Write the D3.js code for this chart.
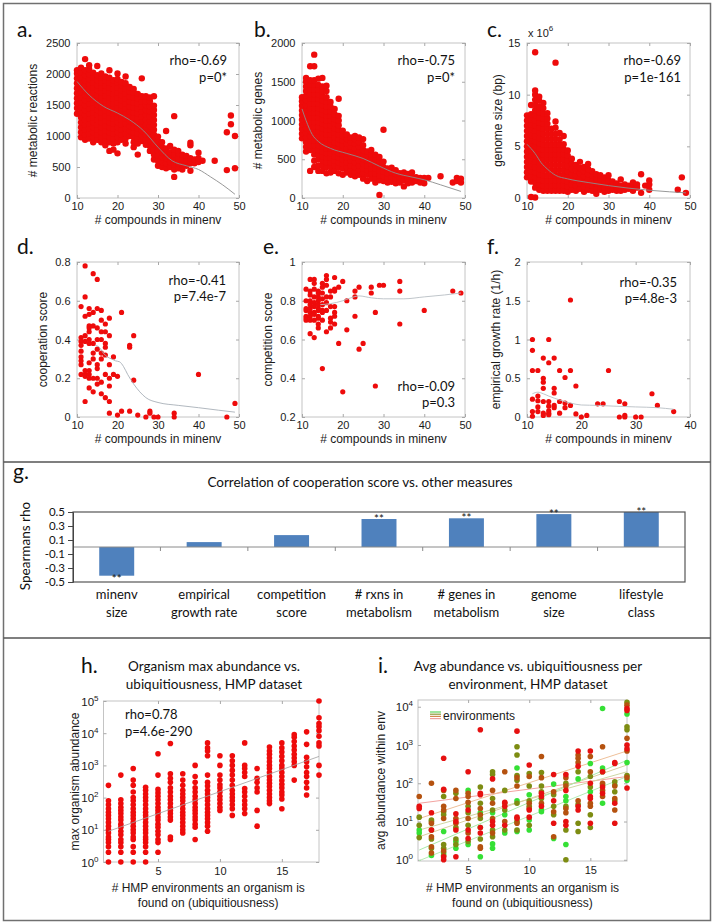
<!DOCTYPE html>
<html><head><meta charset="utf-8">
<script src="https://cdn.jsdelivr.net/npm/d3@7"></script>
<style>body{margin:0;background:#fff}svg{display:block}</style>
</head><body><script>
// ---------------- DATA ----------------
const compoundTicks = [10, 20, 30, 40, 50];
const fXTicks = [10, 20, 30, 40];
const aYTicks = [0, 500, 1000, 1500, 2000, 2500];
const bYTicks = [0, 500, 1000, 1500, 2000];
const cYTicks = [0, 5, 10, 15];
const dYTicks = [0, 0.2, 0.4, 0.6, 0.8];
const eYTicks = [0.2, 0.4, 0.6, 0.8, 1];
const fYTicks = [0, 0.5, 1, 1.5, 2];

// panel a: # compounds vs # metabolic reactions (columns: x, list of y)
const aColumns = [
 [10,[1360,1450,1530,1610,1690,1770,1850,1930,2010,2060]],
 [11,[980,1060,1140,1220,1300,1380,1460,1540,1620,1700,1780,1860,1940,2020,2100]],
 [12,[940,1020,1100,1180,1260,1340,1420,1500,1580,1660,1740,1820,1900,1980,2060,2240]],
 [13,[960,1040,1120,1200,1280,1360,1440,1520,1600,1680,1760,1840,1920,2000,2080,2140]],
 [14,[900,980,1060,1140,1220,1300,1380,1460,1540,1620,1700,1780,1860,1940,2020]],
 [15,[940,1020,1100,1180,1260,1340,1420,1500,1580,1660,1740,1820,1900,1980,2130]],
 [16,[900,980,1060,1140,1220,1300,1380,1460,1540,1620,1700,1780,1860,1940,2010]],
 [17,[850,930,1010,1090,1170,1250,1330,1410,1490,1570,1650,1730,1810,1890,1960]],
 [18,[760,900,980,1060,1140,1220,1300,1380,1460,1540,1620,1700,1780,1860,1940,2060]],
 [19,[780,880,960,1040,1120,1200,1280,1360,1440,1520,1600,1680,1760,1840,1900]],
 [20,[720,900,980,1060,1140,1220,1300,1380,1460,1540,1620,1700,1780,1860,1920,2010]],
 [21,[940,1020,1100,1180,1260,1340,1420,1500,1580,1660,1740,1820,1870]],
 [22,[880,960,1040,1120,1200,1280,1360,1440,1520,1600,1680,1760,1850,1960]],
 [23,[1000,1080,1160,1240,1320,1400,1480,1560,1640,1720,1790]],
 [24,[820,900,980,1060,1140,1220,1300,1380,1460,1540,1620,1700,1760]],
 [25,[700,880,960,1040,1120,1200,1280,1360,1440,1520,1600,1680]],
 [26,[920,1000,1080,1160,1240,1320,1400,1480,1560,1640,1930]],
 [27,[860,940,1020,1100,1180,1260,1340,1420,1500,1560,1640]],
 [28,[760,840,920,1000,1080,1160,1240,1320,1400,1480,1560,1620]],
 [29,[620,700,780,860,940,1020,1100,1180,1260,1340,1420,1490,1640]],
 [30,[520,600,680,760,840,920,990]],
 [31,[500,580,660,740,820,900]],
 [32,[480,560,640,720,800,1080]],
 [33,[500,580,660,740,840]],
 [34,[340,460,540,620,700,780,1320]],
 [35,[480,560,640,720,760]],
 [36,[460,540,620,700]],
 [37,[520,600,680]],
 [38,[440,560,640,850,890]],
 [39,[560,620]],
 [40,[580,640,730]],
 [41,[600]],
 [44,[600]],
 [47,[450,1060]],
 [48,[1190,1330]],
 [49,[480,1000]]
];
const aSmooth = [[10,1880],[13,1660],[16.5,1480],[20,1370],[23,1260],[26.5,1080],[30,820],[33.5,600],[37,520],[40,460],[43,340],[46,210],[49,60]];

// panel b: # compounds vs # metabolic genes
const bColumns = [
 [10,[770,830,890,950,1010,1070,1130,1190,1250,1300]],
 [11,[600,660,720,780,840,900,960,1020,1080,1140,1200,1260,1320,1380,1440,1500,1550]],
 [12,[350,620,680,740,800,860,920,980,1040,1100,1160,1220,1280,1340,1400,1460,1520,1700]],
 [13,[400,480,560,620,680,740,800,860,920,980,1040,1100,1160,1220,1280,1340,1400,1460,1520,1700,1850]],
 [14,[350,420,500,560,620,680,740,800,860,920,980,1040,1100,1160,1220,1280,1340,1400,1460,1540]],
 [15,[350,420,480,540,600,660,720,780,840,900,960,1020,1080,1140,1200,1260,1320,1380,1440,1550]],
 [16,[320,400,460,520,580,640,700,760,820,880,940,1000,1060,1120,1180,1240,1300,1380,1450]],
 [17,[330,400,460,520,580,640,700,760,820,880,940,1000,1060,1120,1180,1240]],
 [18,[350,420,480,540,600,660,720,780,840,900,960,1020,1080,1150]],
 [19,[320,400,460,520,580,640,700,760,820,880,940,1000,1060,1280]],
 [20,[300,380,440,500,560,620,680,740,800,870]],
 [21,[330,400,460,520,580,640,700,760,820]],
 [22,[300,360,420,480,540,600,660,720,780]],
 [23,[280,340,400,460,520,580,640,700,760,800]],
 [24,[300,360,420,480,540,600,660,720,780]],
 [25,[250,320,380,440,500,560,620,680,760]],
 [26,[220,300,360,420,480,540,600]],
 [27,[250,320,380,440,500,560,620]],
 [28,[200,260,320,380,440,500,560]],
 [29,[40,230,290,350,410,470,530]],
 [30,[220,280,340,400,470,880]],
 [31,[200,260,320,380]],
 [32,[210,270,330,390]],
 [33,[190,250,310,360]],
 [34,[200,260,320]],
 [35,[150,230,290,330]],
 [36,[190,250,310]],
 [37,[200,260,330]],
 [38,[220,270]],
 [39,[200,260]],
 [40,[190,260]],
 [41,[260]],
 [44,[280]],
 [47,[200]],
 [48,[220,260]],
 [49,[200,250]]
];
const bSmooth = [[10,1150],[11,1000],[12.5,820],[14,730],[17,640],[21,575],[25,510],[29,410],[33,320],[37,270],[40,235],[44,170],[49,85]];

// panel c: # compounds vs genome size (x 10^6 bp)
const cColumns = [
 [10,[2.0,2.5,3.0,3.5,4.0,4.5,5.0,5.5,6.0,6.5,7.0,7.5,8.0]],
 [11,[0.1,1.6,2.1,2.6,3.1,3.6,4.1,4.6,5.1,5.6,6.1,6.6,7.1,7.6,8.1,9.0]],
 [12,[0.05,1.0,1.5,2.0,2.5,3.0,3.5,4.0,4.5,5.0,5.5,6.0,6.5,7.0,7.5,8.0,8.5,9.0,9.5,10.0,10.4,14.1]],
 [13,[0.8,1.3,1.8,2.3,2.8,3.3,3.8,4.3,4.8,5.3,5.8,6.3,6.8,7.3,7.8,8.3,8.8,9.4,9.8]],
 [14,[0.7,1.2,1.7,2.2,2.7,3.2,3.7,4.2,4.7,5.2,5.7,6.2,6.7,7.2,7.7,8.2,8.7,9.2]],
 [15,[0.7,1.2,1.7,2.2,2.7,3.2,3.7,4.2,4.7,5.2,5.7,6.2,6.7,7.2,7.7,8.2]],
 [16,[0.7,1.2,1.7,2.2,2.7,3.2,3.7,4.2,4.7,5.2,5.7,6.2,6.7]],
 [17,[0.7,1.2,1.7,2.2,2.7,3.2,3.7,4.2,4.7,5.2,5.7,6.2,6.8,7.4,13.1]],
 [18,[0.7,1.2,1.7,2.2,2.7,3.2,3.7,4.2,4.7,5.2,5.7,6.3]],
 [19,[0.7,1.2,1.7,2.2,2.7,3.2,3.7,4.2,4.7,5.2,6.0]],
 [20,[0.6,1.1,1.6,2.1,2.6,3.1,3.6,4.1,4.6]],
 [21,[0.8,1.3,1.8,2.3,2.8,3.3,3.8]],
 [22,[0.7,1.2,1.7,2.2,2.7,3.2]],
 [23,[0.9,1.4,1.9,2.4,2.9,3.5]],
 [24,[0.6,1.1,1.6,2.1,2.6,3.0]],
 [25,[0.8,1.3,1.8,2.3,2.8,3.3]],
 [26,[0.7,1.2,1.7,2.2,2.6]],
 [27,[0.4,0.9,1.4,1.9,2.3]],
 [28,[0.8,1.3,1.8,2.2]],
 [29,[0.6,1.0,1.5,2.0]],
 [30,[0.7,1.2,1.7,2.2]],
 [31,[0.8,1.3,1.6]],
 [32,[0.7,1.1,1.4]],
 [33,[0.7,1.2,1.8]],
 [34,[0.8,1.3]],
 [35,[0.9,1.2]],
 [36,[0.7,1.1,1.5]],
 [37,[1.0,1.3]],
 [38,[0.5,2.3]],
 [39,[1.2]],
 [40,[0.8,1.3,1.7]],
 [47,[0.8]],
 [48,[2.0]],
 [49,[0.5]]
];
const cSmooth = [[10,5.2],[12,4.3],[13.5,3.4],[15,2.8],[17,2.2],[20,1.85],[25,1.5],[30,1.2],[35,0.95],[40,0.75],[45,0.6],[49,0.5]];

// panel d: cooperation score
const dColumns = [
 [11,[0.57,0.41,0.39,0.37,0.34,0.31,0.29,0.27,0.22]],
 [12,[0.78,0.62,0.52,0.42,0.39,0.24,0.22,0.21,0.08]],
 [13,[0.56,0.53,0.47,0.46,0.44,0.40,0.38,0.28,0.24,0.22,0.20,0.15]],
 [14,[0.74,0.54,0.47,0.38,0.33,0.30,0.20,0.13]],
 [15,[0.71,0.56,0.46,0.40,0.35,0.27,0.25,0.20,0.17]],
 [16,[0.55,0.50,0.44,0.40,0.33,0.30,0.18,0.12]],
 [17,[0.48,0.44,0.38,0.36,0.32,0.22,0.10]],
 [18,[0.51,0.42,0.27,0.20,0.16,0.08,0.02]],
 [19,[0.31,0.22]],
 [20,[0.21,0.01]],
 [21,[0.54,0.03]],
 [23,[0.37,0.36,0.03]],
 [24,[0.42,0.19]],
 [25,[0.01]],
 [27,[0.0]],
 [28,[0.03,0.02]],
 [29,[0.0]],
 [30,[0.0]],
 [34,[0.02,0.0]],
 [40,[0.22]],
 [47,[0.0]],
 [49,[0.07]]
];
const dSmooth = [[14.5,0.37],[15.5,0.36],[16.5,0.33],[17.5,0.31],[18.5,0.30],[19.5,0.29],[20.5,0.285],[21.5,0.26],[22.5,0.22],[24,0.17],[25.5,0.13],[27,0.10],[30,0.075],[35,0.06],[40,0.048],[45,0.035],[49,0.025]];

// panel e: competition score
const eColumns = [
 [11,[0.86,0.80,0.76,0.75,0.72,0.71,0.70]],
 [12,[0.91,0.85,0.83,0.80,0.78,0.76,0.74,0.72,0.70,0.63]],
 [13,[0.91,0.89,0.86,0.82,0.79,0.77,0.74,0.73,0.70,0.61]],
 [14,[0.85,0.84,0.82,0.80,0.78,0.76,0.75,0.72,0.71,0.68,0.66]],
 [15,[0.89,0.87,0.84,0.81,0.78,0.75,0.74,0.70,0.45]],
 [16,[0.93,0.91,0.88,0.82,0.79,0.75,0.64]],
 [17,[0.85,0.82,0.77,0.71,0.69,0.66]],
 [18,[0.92,0.86,0.85,0.77,0.74,0.72,0.68]],
 [19,[0.87,0.58]],
 [20,[0.90,0.33]],
 [21,[0.80,0.65]],
 [23,[0.85,0.82,0.72]],
 [24,[0.87,0.55]],
 [25,[0.58]],
 [27,[0.87,0.84]],
 [28,[0.74,0.36]],
 [29,[0.88]],
 [30,[0.88]],
 [34,[0.90,0.85,0.68]],
 [40,[0.75]],
 [47,[0.85]],
 [49,[0.84]]
];
const eSmooth = [[14.5,0.78],[17,0.785],[20,0.80],[22,0.815],[24,0.825],[27,0.815],[30,0.81],[35,0.81],[40,0.82],[45,0.83],[49,0.84]];

// panel f: empirical growth rate
const fColumns = [
 [11,[1.0,0.86,0.6,0.23,0.07,0.01]],
 [12,[0.6,0.27,0.21,0.13,0.07]],
 [13,[0.76,0.50,0.45,0.37,0.20,0.05,0.02]],
 [14,[1.0,0.70,0.20,0.14,0.08,0.05,0.03]],
 [15,[0.76,0.37,0.31,0.15,0.12]],
 [16,[0.6,0.20,0.05]],
 [17,[0.51,0.18,0.12]],
 [18,[1.51,0.6,0.15]],
 [19,[0.40,0.04]],
 [20,[0.0]],
 [21,[0.02]],
 [23,[0.17]],
 [24,[0.17]],
 [25,[0.6]],
 [27,[0.20,0.0]],
 [28,[0.17,0.02,0.0]],
 [30,[0.0]],
 [31,[0.0]],
 [33,[0.30]],
 [34,[0.15]],
 [37,[0.07]]
];
const fSmooth = [[11,0.30],[12,0.32],[13,0.30],[14,0.27],[16,0.22],[18,0.18],[20,0.155],[23,0.15],[26,0.14],[30,0.13],[34,0.12],[37,0.10]];

// panel g: correlation of cooperation score vs other measures
const gCategories = [["minenv","size"],["empirical","growth rate"],["competition","score"],["# rxns in","metabolism"],["# genes in","metabolism"],["genome","size"],["lifestyle","class"]];
const gRho = [-0.41, 0.07, 0.17, 0.40, 0.41, 0.47, 0.50];
const gSignif = ["**", "", "", "**", "**", "**", "**"];
const gTicks = [0.5, 0.3, 0.1, -0.1, -0.3, -0.5];

// panel h: max abundance vs ubiquitiousness
const hXTicks = [5, 10, 15];
const hYTicks = [1, 10, 100, 1000, 10000, 100000];
const hColumns = [
 [1,[1,2,3,4,5,6,8,10,13,17,22,28,35,45,60,80,240]],
 [2,[1,2,3,4,5,7,9,12,15,20,25,32,40,50,65,85,500]],
 [3,[1,2,3,5,6,8,10,13,17,22,28,35,45,60,80,100,150,240,350,800]],
 [4,[1,2,3,4,5,6,8,10,13,17,22,28,35,45,60,80,100,130,170,210]],
 [5,[2,4,5,7,9,12,15,20,25,32,40,50,65,85,110,140,180,500,2300]],
 [6,[5,6,20,25,32,40,50,65,85,110,150,200,300,400,550,4800]],
 [7,[8,10,13,17,22,28,35,45,60,80,100,130,170,240,350,550]],
 [8,[5,12,15,20,25,32,40,50,65,85,110,150,200,300,450,1000]],
 [9,[9,13,17,22,28,35,45,60,80,100,130,170,230,300,500,2000,2800,3500,5000]],
 [10,[40,50,65,85,110,150,200,250,350,500,1000,2000]],
 [11,[28,45,60,80,100,130,170,240,350,500,700,1000,1400,2000]],
 [12,[32,45,60,80,110,150,190,450,600,800,1000,5000]],
 [13,[13,40,150,200,300,400,800]],
 [14,[65,80,100,130,170,220,280,350,450,600,800,1000,1300,1700,2200,2800,3700]],
 [15,[45,90,120,150,200,260,340,450,600,800,1000,1400,1900,2600,3500,5000]],
 [16,[350,1000,1300,1700,2200,3000,4000,5500,7500,9000]],
 [17,[120,200,300,450,600,900,1300,1800,4500,11000]],
 [18,[500,1000,4000,5000,8000,12000,16000,20000,30000,100000]]
];
const hFit = [[1,9],[18,1900]];

// panel i: avg abundance per environment
const iYTicks = [1, 10, 100, 1000, 10000];
const iRed = [[1,25],[1,22],[2,17],[2,6],[3,450],[3,70],[3,1.2],[3,1.0],[4,16],[4,10],[4,6],[4,1.2],[5,200],[5,20],[5,6],[5,3.6],[6,2500],[6,55],[6,50],[6,7],[6,5],[7,130],[7,10],[7,8],[8,32],[8,25],[8,8],[9,2300],[9,13],[9,12],[10,300],[10,20],[10,13],[11,55],[11,45],[11,25],[12,170],[12,35],[12,9],[13,170],[13,65],[13,10],[13,8],[14,700],[14,280],[14,25],[14,20],[15,700],[15,100],[15,45],[15,40],[15,9],[16,200],[16,80],[16,55],[17,350],[17,330],[17,30],[17,9],[18,9000],[18,8000],[18,1000],[18,800],[18,75]];
const iBrown = [[1,45],[2,100],[2,9],[2,4],[2,2.2],[2,1.5],[3,65],[3,25],[3,20],[3,12],[3,1.7],[4,65],[4,40],[4,12],[4,9],[5,55],[5,45],[5,32],[5,12],[5,5],[6,22],[6,15],[6,2.2],[6,2],[7,65],[7,30],[7,12],[7,5],[8,200],[8,30],[8,10],[9,140],[9,85],[9,9],[10,150],[10,30],[10,22],[11,500],[11,140],[11,30],[12,60],[12,18],[12,4],[13,140],[13,85],[13,22],[13,17],[14,550],[14,450],[14,350],[14,35],[15,500],[15,200],[15,30],[15,25],[16,900],[16,100],[16,65],[16,45],[17,85],[17,40],[17,20],[18,11000],[18,1500],[18,700],[18,140]];
const iOlive = [[1,13],[1,8],[1,3.8],[2,11],[2,10],[2,6],[2,3.5],[2,2],[3,45],[3,18],[3,15],[3,2.5],[3,2],[3,1.3],[4,55],[4,7],[4,3.5],[4,2.5],[5,25],[5,17],[5,8],[5,3],[6,80],[6,30],[6,12],[6,3.5],[7,200],[7,170],[7,40],[7,20],[7,6],[7,4],[8,65],[8,20],[8,6],[9,900],[9,550],[9,160],[9,120],[9,30],[9,10],[9,6],[10,180],[10,85],[10,35],[10,25],[10,8],[11,190],[11,85],[11,60],[11,40],[12,50],[12,25],[12,15],[13,100],[13,25],[13,6],[13,1.0],[14,200],[14,28],[14,9],[14,5.5],[15,150],[15,80],[15,15],[15,7],[16,200],[16,90],[17,110],[17,60],[17,35],[18,13000],[18,3000],[18,2500],[18,160]];
const iGreen = [[1,6],[1,5],[2,1.3],[3,5.5],[3,1.5],[4,3],[4,2],[5,65],[5,2.5],[6,17],[6,7],[6,1.2],[7,17],[7,2.6],[7,2],[8,15],[8,5],[9,250],[9,35],[9,5.5],[10,50],[10,11],[10,6],[11,20],[11,18],[12,95],[12,3.6],[13,45],[13,35],[13,2.5],[14,130],[15,330],[15,60],[16,9000],[16,250],[16,30],[17,90],[18,6500],[18,350],[18,120]];
const iFitRed = [[1,30],[18,150]];
const iFitBrown = [[1,12],[18,700]];
const iFitOlive = [[1,6],[18,200]];
const iFitOlive2 = [[1,4],[18,300]];
const iFitGreen = [[1,1.8],[18,400]];
const iFitGreen2 = [[1,0.95],[18,150]];

// ---------------- DRAWING ----------------
const W = 717, H = 924;
const RED = "#ee0b0b";
const CAL = "Lato, 'Open Sans', sans-serif";
const ARI = "'Liberation Sans', Arial, sans-serif";
const svg = d3.select("body").append("svg").attr("width", W).attr("height", H)
  .style("font-family", ARI);

svg.append("rect").attr("width", W).attr("height", H).attr("fill", "#fff");
// section frames
svg.append("rect").attr("x", 3.5).attr("y", 3.5).attr("width", 707).attr("height", 917)
  .attr("fill", "none").attr("stroke", "#707070").attr("stroke-width", 1.5);
[462, 638].forEach(yy => svg.append("line").attr("x1", 3.5).attr("x2", 710.5)
  .attr("y1", yy).attr("y2", yy).attr("stroke", "#555").attr("stroke-width", 1.5));

const flat = cols => cols.flatMap(([x, ys]) => ys.map(v => [x, v]));

function styleAxis(g) {
  g.select(".domain").remove();
  g.selectAll(".tick line").attr("stroke", "#a8a8a8");
  g.selectAll(".tick text").attr("fill", "#1a1a1a").style("font-family", ARI).style("font-size", "11px");
}

function frameAxes(o, x, y, logY) {
  const g = svg.append("g");
  g.append("rect").attr("x", o.l).attr("y", o.t).attr("width", o.r - o.l).attr("height", o.b - o.t)
    .attr("fill", "#fff").attr("stroke", "#c4c4c4").attr("stroke-width", 1);
  const bx = g.append("g").attr("transform", `translate(0,${o.b})`)
    .call(d3.axisBottom(x).tickValues(o.xt).tickSize(-3).tickPadding(o.xpad || 4).tickFormat(d3.format("d")));
  styleAxis(bx);
  g.append("g").attr("transform", `translate(0,${o.t})`)
    .call(d3.axisTop(x).tickValues(o.xt).tickSize(-3).tickFormat("")).call(styleAxis);
  g.append("g").attr("transform", `translate(${o.r},0)`)
    .call(d3.axisRight(y).tickValues(o.yt).tickSize(-3).tickFormat("")).call(styleAxis);
  const ly = g.append("g").attr("transform", `translate(${o.l},0)`)
    .call(d3.axisLeft(y).tickValues(o.yt).tickSize(-3).tickPadding(6.5)
      .tickFormat(logY ? "" : (d => String(d))));
  styleAxis(ly);
  if (logY) {
    o.yt.forEach(v => {
      const t = g.append("text").attr("x", o.l - 5).attr("y", y(v) + 4.5)
        .attr("text-anchor", "end").attr("fill", "#1a1a1a").style("font-size", "11.5px");
      t.append("tspan").text("10");
      t.append("tspan").attr("dy", -5).style("font-size", "8px").text(Math.round(Math.log10(v)));
    });
  }
  return g;
}

function scatterPanel(o) {
  const x = d3.scaleLinear().domain(o.xd).range([o.l, o.r]);
  const y = (o.log ? d3.scaleLog() : d3.scaleLinear()).domain(o.yd).range([o.b, o.t]);
  frameAxes(o, x, y, o.log);
  const g = svg.append("g");
  g.selectAll("circle").data(o.pts).join("circle")
    .attr("cx", d => x(d[0])).attr("cy", d => y(d[1])).attr("r", o.rad).attr("fill", RED);
  if (o.smooth) {
    g.append("path").datum(o.smooth)
      .attr("d", d3.line().x(d => x(d[0])).y(d => y(d[1])).curve(d3.curveMonotoneX))
      .attr("fill", "none").attr("stroke", o.smoothColor || "#8c8c8c").attr("stroke-width", 0.9);
  }
  // axis titles
  svg.append("text").attr("transform", `translate(${o.ylx},${(o.t + o.b) / 2}) rotate(-90)`)
    .attr("text-anchor", "middle").attr("dy", "0.35em").style("font-size", "12px")
    .attr("fill", "#1a1a1a").text(o.ylabel);
  (Array.isArray(o.xlabel) ? o.xlabel : [o.xlabel]).forEach((s, i) =>
    svg.append("text").attr("x", (o.l + o.r) / 2 + (o.xlo || 0)).attr("y", o.xly + i * 14.5)
      .attr("text-anchor", "middle").style("font-size", "12px").attr("fill", "#1a1a1a").text(s));
  if (o.letter) svg.append("text").attr("x", o.lx).attr("y", o.ly).style("font-family", CAL)
    .style("font-size", "21px").attr("fill", "#111").text(o.letter);
  if (o.stats) o.stats.forEach((s, i) => svg.append("text").attr("x", o.sx).attr("y", o.sy[i])
    .attr("text-anchor", o.sanchor || "end").style("font-family", CAL).style("font-size", "13px")
    .attr("fill", "#111").text(s));
  return {x, y};
}

const C1 = [77, 239], C2 = [302, 465], C3 = [527, 690];
const R1 = [43, 198], R2 = [262, 417];

scatterPanel({l:C1[0], r:C1[1], t:R1[0], b:R1[1], xd:[10,50], yd:[0,2500], xt:compoundTicks, yt:aYTicks,
  pts:flat(aColumns), smooth:aSmooth, rad:3.2, ylabel:"# metabolic reactions", ylx:33,
  xlabel:"# compounds in minenv", xly:224, letter:"a.", lx:17, ly:37,
  stats:["rho=-0.69","p=0*"], sx:227, sy:[65,82]});
scatterPanel({l:C2[0], r:C2[1], t:R1[0], b:R1[1], xd:[10,50], yd:[0,2000], xt:compoundTicks, yt:bYTicks,
  pts:flat(bColumns), smooth:bSmooth, rad:3.2, ylabel:"# metabolic genes", ylx:258,
  xlabel:"# compounds in minenv", xly:224, letter:"b.", lx:254, ly:37,
  stats:["rho=-0.75","p=0*"], sx:455, sy:[65,82]});
scatterPanel({l:C3[0], r:C3[1], t:R1[0], b:R1[1], xd:[10,50], yd:[0,15], xt:compoundTicks, yt:cYTicks,
  pts:flat(cColumns), smooth:cSmooth, rad:3.2, ylabel:"genome size (bp)", ylx:498,
  xlabel:"# compounds in minenv", xly:224, letter:"c.", lx:487, ly:37,
  stats:["rho=-0.69","p=1e-161"], sx:681, sy:[65,82]});
{
  const t = svg.append("text").attr("x", 528).attr("y", 37).style("font-size", "11px").attr("fill", "#1a1a1a");
  t.append("tspan").text("x 10");
  t.append("tspan").attr("dy", -6).style("font-size", "8px").text("6");
}
scatterPanel({l:C1[0], r:C1[1], t:R2[0], b:R2[1], xd:[10,50], yd:[0,0.8], xt:compoundTicks, yt:dYTicks,
  pts:flat(dColumns), smooth:dSmooth, smoothColor:"#a8b0b8", rad:2.6, ylabel:"cooperation score", ylx:43,
  xlabel:"# compounds in minenv", xly:443, letter:"d.", lx:17, ly:254,
  stats:["rho=-0.41","p=7.4e-7"], sx:226, sy:[285,301]});
scatterPanel({l:C2[0], r:C2[1], t:R2[0], b:R2[1], xd:[10,50], yd:[0.2,1], xt:compoundTicks, yt:eYTicks,
  pts:flat(eColumns), smooth:eSmooth, smoothColor:"#b8bec4", rad:2.6, ylabel:"competition score", ylx:268,
  xlabel:"# compounds in minenv", xly:443, letter:"e.", lx:263, ly:254,
  stats:["rho=-0.09","p=0.3"], sx:455, sy:[391,407]});
scatterPanel({l:C3[0], r:C3[1], t:R2[0], b:R2[1], xd:[10,40], yd:[0,2], xt:fXTicks, yt:fYTicks,
  pts:flat(fColumns), smooth:fSmooth, smoothColor:"#b8bec4", rad:2.6, ylabel:"empirical growth rate (1/h)", ylx:496,
  xlabel:"# compounds in minenv", xly:443, letter:"f.", lx:487, ly:254,
  stats:["rho=-0.35","p=4.8e-3"], sx:677, sy:[287,303]});

// ---------- panel g ----------
{
  const L = 73, R = 685, T = 512, B = 582;
  const x = d3.scaleBand().domain(gCategories.map(c => c.join(" "))).range([L, R]);
  const y = d3.scaleLinear().domain([-0.5, 0.5]).range([B, T]);
  const g = svg.append("g");
  const bw = x.bandwidth() * 0.4;
  g.selectAll("rect.bar").data(gRho).join("rect").attr("class", "bar")
    .attr("x", (d, i) => x(gCategories[i].join(" ")) + x.bandwidth() / 2 - bw / 2)
    .attr("y", d => y(Math.max(0, d))).attr("width", bw)
    .attr("height", d => Math.abs(y(d) - y(0))).attr("fill", "#4f81bd");
  g.append("line").attr("x1", L).attr("x2", R).attr("y1", y(0)).attr("y2", y(0)).attr("stroke", "#8a8a8a");
  gCategories.slice(1).forEach((c, i) => {
    const xx = x(c.join(" "));
    g.append("line").attr("x1", xx).attr("x2", xx).attr("y1", y(0)).attr("y2", y(0) + 4).attr("stroke", "#8a8a8a");
  });
  g.append("rect").attr("x", L).attr("y", T).attr("width", R - L).attr("height", B - T)
    .attr("fill", "none").attr("stroke", "#555").attr("stroke-width", 1.2);
  const ax = g.append("g").attr("transform", `translate(${L},0)`)
    .call(d3.axisLeft(y).tickValues(gTicks).tickSize(5).tickPadding(3).tickFormat(d => d.toFixed(1)));
  ax.select(".domain").attr("stroke", "#444");
  ax.selectAll(".tick line").attr("stroke", "#444");
  ax.selectAll(".tick text").style("font-family", CAL).style("font-size", "11.5px").attr("fill", "#111");
  // significance
  g.selectAll("text.sig").data(gRho).join("text").attr("class", "sig")
    .attr("x", (d, i) => x(gCategories[i].join(" ")) + x.bandwidth() / 2)
    .attr("y", d => d >= 0 ? y(d) + 4 : y(d) + 7.5)
    .attr("text-anchor", "middle").style("font-family", CAL).style("font-size", "11.5px").attr("fill", "#111")
    .text((d, i) => gSignif[i]);
  // category labels
  gCategories.forEach((c, i) => c.forEach((s, j) =>
    g.append("text").attr("x", x(c.join(" ")) + x.bandwidth() / 2).attr("y", 599 + j * 18)
      .attr("text-anchor", "middle").style("font-family", CAL).style("font-size", "13px").attr("fill", "#111").text(s)));
  svg.append("text").attr("x", 360).attr("y", 486.5).attr("text-anchor", "middle")
    .style("font-family", CAL).style("font-size", "13.5px").attr("fill", "#111")
    .text("Correlation of cooperation score vs. other measures");
  svg.append("text").attr("transform", `translate(25,546) rotate(-90)`).attr("text-anchor", "middle")
    .attr("dy", "0.35em").style("font-family", CAL).style("font-size", "13.5px").attr("fill", "#111").text("Spearmans rho");
  svg.append("text").attr("x", 13).attr("y", 479).style("font-family", CAL).style("font-size", "21px")
    .attr("fill", "#111").text("g.");
}

// ---------- panel h ----------
{
  const o = {l:103.5, r:319, t:701, b:862, xd:[0.6,18], yd:[1,100000], xt:hXTicks, yt:hYTicks, log:true,
    pts:flat(hColumns), rad:2.8, ylabel:"max organism abundance", ylx:75, xpad:5,
    xlabel:["# HMP environments an organism is","found on (ubiquitiousness)"], xly:892, xlo:-3,
    stats:["rho=0.78","p=4.6e-290"], sx:125, sy:[719,736], sanchor:"start"};
  const sc = scatterPanel(o);
  svg.append("path").datum(hFit).attr("d", d3.line().x(d => sc.x(d[0])).y(d => sc.y(d[1])))
    .attr("stroke", "#a0a0a0").attr("stroke-width", 0.8).attr("fill", "none");
  ["Organism max abundance vs.", "ubiquitiousness, HMP dataset"].forEach((s, i) =>
    svg.append("text").attr("x", 214).attr("y", 671 + i * 18).attr("text-anchor", "middle")
      .style("font-family", CAL).style("font-size", "13.5px").attr("fill", "#111").text(s));
  svg.append("text").attr("x", 81).attr("y", 673).style("font-family", CAL).style("font-size", "21px")
    .attr("fill", "#111").text("h.");
}

// ---------- panel i ----------
{
  const o = {l:418, r:627, t:700, b:861, xd:[0.9,18], yd:[0.93,15000], xt:hXTicks, yt:iYTicks, log:true,
    pts:[], rad:2.8, ylabel:"avg abundance within env", ylx:381, xpad:5,
    xlabel:["# HMP environments an organism is","found on (ubiquitiousness)"], xly:892};
  const sc = scatterPanel(o);
  const groups = [
    {pts:iGreen, c:"#35e035"}, {pts:iOlive, c:"#7d8c12"}, {pts:iBrown, c:"#b5520f"}, {pts:iRed, c:"#e61010"}
  ];
  const fits = [
    {pts:iFitRed, c:"#f3a3a0"}, {pts:iFitBrown, c:"#eec09a"}, {pts:iFitOlive, c:"#cfd6a4"},
    {pts:iFitOlive2, c:"#d8cfa0"}, {pts:iFitGreen, c:"#a8eaa8"}, {pts:iFitGreen2, c:"#b4ecb4"}
  ];
  const gi = svg.append("g");
  fits.forEach(f => gi.append("path").datum(f.pts)
    .attr("d", d3.line().x(d => sc.x(d[0])).y(d => sc.y(d[1])))
    .attr("stroke", f.c).attr("stroke-width", 1).attr("fill", "none"));
  groups.forEach(gr => gi.append("g").selectAll("circle").data(gr.pts).join("circle")
    .attr("cx", d => sc.x(d[0])).attr("cy", d => sc.y(d[1])).attr("r", 2.8).attr("fill", gr.c));
  // legend
  ["#5fd35f", "#8c9a3a", "#d08a50", "#f0a0a0"].forEach((c, k) =>
    svg.append("line").attr("x1", 430).attr("x2", 441).attr("y1", 712 + k * 2.2).attr("y2", 712 + k * 2.2)
      .attr("stroke", c).attr("stroke-width", 1.2));
  svg.append("text").attr("x", 443).attr("y", 720).style("font-size", "12px").attr("fill", "#1a1a1a").text("environments");
  ["Avg abundance vs. ubiquitiousness per", "environment, HMP dataset"].forEach((s, i) =>
    svg.append("text").attr("x", 528).attr("y", 671 + i * 18).attr("text-anchor", "middle")
      .style("font-family", CAL).style("font-size", "13.5px").attr("fill", "#111").text(s));
  svg.append("text").attr("x", 378).attr("y", 673).style("font-family", CAL).style("font-size", "21px")
    .attr("fill", "#111").text("i.");
}
</script></body></html>
